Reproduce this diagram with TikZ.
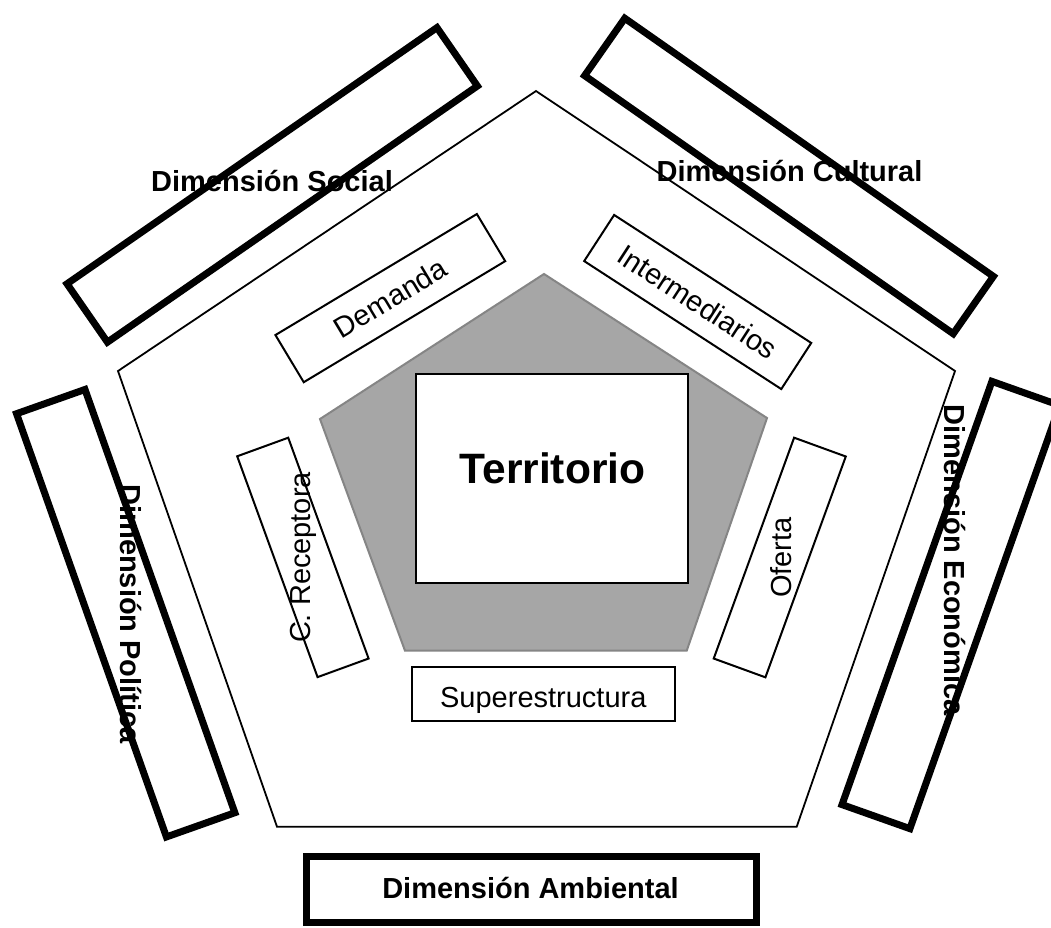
\documentclass[tikz,border=0pt]{standalone}
\usepackage{fontspec}
\setmainfont{Liberation Sans}
\definecolor{greyfill}{HTML}{A6A6A6}
\definecolor{greyline}{HTML}{858585}
\begin{document}
\begin{tikzpicture}[x=1pt,y=-1pt,
  dimbox/.style={draw=black,line width=7pt,minimum width=450pt,minimum height=71pt,inner sep=0pt,line join=miter},
  subbox/.style={draw=black,line width=2pt,fill=white,minimum width=235pt,minimum height=55pt,inner sep=0pt,font=\fontsize{29}{34}\selectfont},
  small/.style={font=\fontsize{29}{34}\selectfont,inner sep=0pt},
  bigdim/.style={font=\bfseries\fontsize{29}{34}\selectfont,inner sep=0pt}]
\useasboundingbox (0,0) rectangle (1051,927);
% outer pentagon
\draw[line width=1.8pt,fill=white,line join=miter] (536,91) -- (955,371) -- (796.7,826.7) -- (277,826.7) -- (118,371) -- cycle;
% inner grey pentagon
\draw[line width=2pt,draw=greyline,fill=greyfill,line join=miter] (544,274) -- (767,418) -- (686.7,650.7) -- (405,650.7) -- (320,419) -- cycle;
% Territorio
\node[draw=black,line width=2pt,fill=white,minimum width=272.3pt,minimum height=209.3pt,inner sep=0pt] (terrbox) at (552.2,478.7) {};
\node[font=\bfseries\fontsize{42.5}{50}\selectfont,anchor=base,inner sep=0pt] (terr) at (552.5,483) {Territorio};
% dimension boxes
\node[dimbox,rotate=34.7] (socbox) at (272.2,184.9) {};
\node[dimbox,rotate=-35,minimum height=70pt] (culbox) at (789,176) {};
\node[dimbox,rotate=109.5,minimum width=449pt,minimum height=72.6pt] (polbox) at (125.7,613.2) {};
\node[dimbox,rotate=70.5,minimum width=449pt,minimum height=72pt] (ecobox) at (950.9,605) {};
\node[dimbox,minimum height=66pt] (ambbox) at (531,889.5) {};
% inner boxes
\node[subbox,rotate=31] (dem) at (390.3,298.1) {Demanda};
\node[subbox,rotate=-33] (int) at (697.7,302) {Intermediarios};
\node[subbox,rotate=110,minimum height=54.3pt] (recbox) at (302.9,557.4) {};
\node[subbox,rotate=70] (ofbox) at (779.75,557.5) {};
\node[subbox,minimum width=263pt,minimum height=54pt] (supbox) at (543.5,693.7) {};
% texts
\node[small,rotate=90] (rec) at (303.3,557.5) {C. Receptora};
\node[small,rotate=90] (of) at (781,557.5) {Oferta};
\node[small,anchor=base] (sup) at (543.3,707.3) {Superestructura};
\node[bigdim,anchor=base] (soc) at (272,191) {Dimensión Social};
\node[bigdim,anchor=base] (cul) at (789.5,181) {Dimensión Cultural};
\node[bigdim,anchor=base] (amb) at (530.5,898) {Dimensión Ambiental};
\node[bigdim,rotate=-90] (pol) at (130.5,614) {Dimensión Política};
\node[bigdim,rotate=-90] (eco) at (955,560) {Dimensión Económica};
\end{tikzpicture}
\end{document}
